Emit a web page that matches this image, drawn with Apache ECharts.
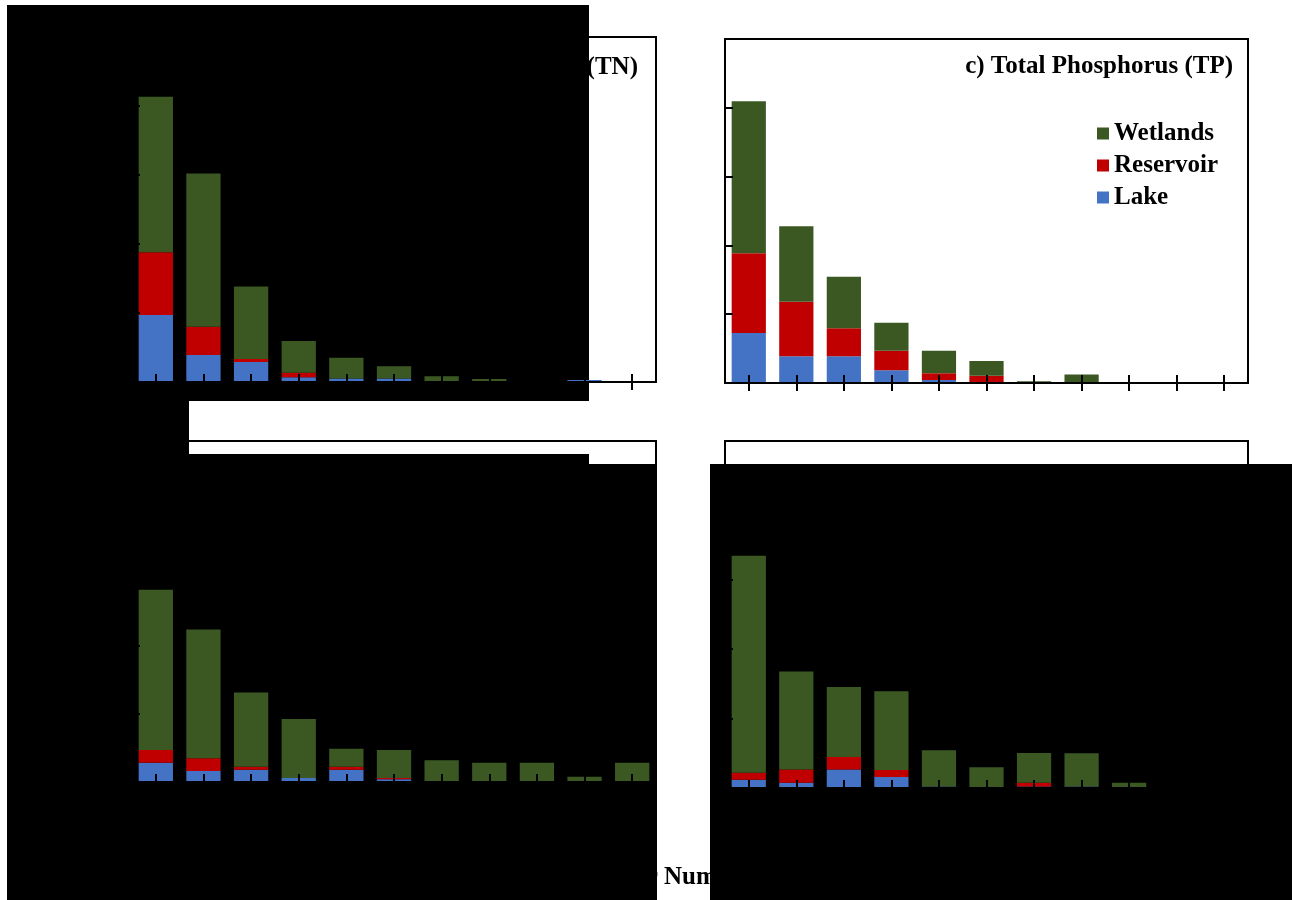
<!DOCTYPE html>
<html>
<head>
<meta charset="utf-8">
<script src="https://cdn.jsdelivr.net/npm/echarts@6/dist/echarts.min.js"></script>
<style>
  html, body { margin: 0; padding: 0; background: #fff; }
  #chart { width: 1292px; height: 900px; }
</style>
</head>
<body>
<div id="chart"></div>
<script>
// ---- data (percent of water bodies per class) ----
const categories = ['1', '2', '3', '4', '5', '6', '7', '8', '9', '10', '11'];
const seriesNames = ['Lake', 'Reservoir', 'Wetlands'];

// a) Total Nitrogen (TN)
const tnLake      = [9.7, 3.9, 2.9, 0.7, 0.5, 0.5, 0, 0.15, 0, 0.3, 0];
const tnReservoir = [9.1, 4.1, 0.45, 0.65, 0, 0, 0, 0, 0, 0, 0];
const tnWetlands  = [22.55, 22.2, 10.5, 4.6, 3.0, 1.8, 0.85, 0.3, 0, 0, 0];

// c) Total Phosphorus (TP)
const tpLake      = [7.25, 3.9, 3.9, 1.85, 0.45, 0, 0, 0, 0, 0, 0];
const tpReservoir = [11.6, 7.9, 4.05, 2.85, 0.95, 1.05, 0, 0, 0, 0, 0];
const tpWetlands  = [22.1, 11.0, 7.5, 4.05, 3.3, 2.15, 0.25, 1.25, 0, 0, 0];

// b) bottom-left panel
const blLake      = [2.83, 1.61, 1.8, 0.59, 1.8, 0.4, 0, 0, 0, 0, 0];
const blReservoir = [1.86, 1.86, 0.44, 0, 0.44, 0.19, 0, 0, 0, 0, 0];
const blWetlands  = [23.5, 18.9, 10.9, 8.65, 2.64, 4.1, 3.2, 2.83, 2.83, 0.78, 2.83];

// d) bottom-right panel
const brLake      = [1.2, 0.75, 2.65, 1.6, 0.2, 0, 0.2, 0.2, 0, 0, 0];
const brReservoir = [1.0, 1.9, 1.8, 1.0, 0, 0, 0.55, 0, 0, 0, 0];
const brWetlands  = [31.25, 14.15, 10.1, 11.35, 5.25, 3.0, 4.3, 4.8, 0.75, 0, 0];

const yTicks = { min: 0, max: 50, interval: 10 };
const xTitle = 'Stream Order Number';

// ---- styles ----
const colors = { Lake: '#4472C4', Reservoir: '#C00000', Wetlands: '#3B5823' };
const serif = '"Liberation Serif", "DejaVu Serif", serif';

const panels = [
  { grid: { left: 132, top: 37, width: 524, height: 345 }, data: [tnLake, tnReservoir, tnWetlands] },
  { grid: { left: 725, top: 39, width: 523, height: 344 }, data: [tpLake, tpReservoir, tpWetlands] },
  { grid: { left: 132, top: 441, width: 524, height: 341 }, data: [blLake, blReservoir, blWetlands] },
  { grid: { left: 725, top: 441, width: 523, height: 347 }, data: [brLake, brReservoir, brWetlands] }
];

const grids = [], xAxes = [], yAxes = [], series = [];
panels.forEach((p, i) => {
  grids.push(Object.assign({ show: true, borderColor: '#000', borderWidth: 2, backgroundColor: 'transparent' }, p.grid));
  const baseX = {
    type: 'category', gridIndex: i, data: categories, position: 'bottom', z: 5,
    boundaryGap: true,
    axisLabel: { show: false },
    splitLine: { show: false }
  };
  // inner half of the crossing tick marks (drawn over the bars)
  xAxes.push(Object.assign({}, baseX, {
    axisLine: { show: true, lineStyle: { color: '#000', width: 2 } },
    axisTick: { show: true, inside: true, length: 8, alignWithLabel: true, lineStyle: { color: '#000', width: 2 } }
  }));
  // outer half of the crossing tick marks
  xAxes.push(Object.assign({}, baseX, {
    axisLine: { show: false },
    axisTick: { show: true, inside: false, length: 8, alignWithLabel: true, lineStyle: { color: '#000', width: 2 } }
  }));
  yAxes.push({
    type: 'value', gridIndex: i, min: yTicks.min, max: yTicks.max, interval: yTicks.interval, z: 5,
    axisLine: { show: true, lineStyle: { color: '#000', width: 2 } },
    axisTick: { show: true, inside: true, length: 8, lineStyle: { color: '#000', width: 2 } },
    axisLabel: { show: false },
    splitLine: { show: false }
  });
  seriesNames.forEach((name, k) => {
    series.push({
      name: name, type: 'bar', stack: 'panel' + i,
      xAxisIndex: i * 2, yAxisIndex: i,
      barCategoryGap: '28%',
      itemStyle: { color: colors[name] },
      emphasis: { disabled: true },
      data: p.data[k]
    });
  });
});

// position of figure-level x title
const ctx = document.createElement('canvas').getContext('2d');
ctx.font = 'bold 25px "Liberation Serif"';
const prefixW = ctx.measureText('Stream Order ').width;

const black = (x, y, w, h) => ({ type: 'rect', z: 1, silent: true, shape: { x: x, y: y, width: w, height: h }, style: { fill: '#000' } });
const label = (txt, x, y, align) => ({
  type: 'text', z: 20, silent: true, x: x, y: y,
  style: { text: txt, fill: '#000', font: 'bold 25px ' + serif, textAlign: align, textVerticalAlign: 'middle' }
});

const option = {
  animation: false,
  backgroundColor: '#fff',
  grid: grids,
  xAxis: xAxes,
  yAxis: yAxes,
  series: series,
  legend: {
    data: ['Wetlands', 'Reservoir', 'Lake'],
    orient: 'vertical', left: 1097, top: 121, padding: 0,
    itemWidth: 12, itemHeight: 12, itemGap: 7, icon: 'rect',
    selectedMode: false,
    textStyle: { fontFamily: serif, fontWeight: 'bold', fontSize: 25, color: '#000' }
  },
  graphic: {
    elements: [
      black(7, 5, 582, 396),
      black(7, 401, 182, 53),
      black(7, 454, 582, 446),
      black(589, 464, 68, 436),
      black(710, 464, 582, 436),
      label('a) Total Nitrogen (TN)', 638, 67.6, 'right'),
      label('c) Total Phosphorus (TP)', 1233, 66.6, 'right'),
      label(xTitle, 664 - prefixW, 877.6, 'left')
    ]
  }
};

const chart = echarts.init(document.getElementById('chart'), null, { renderer: 'canvas' });
chart.setOption(option);
</script>
</body>
</html>
